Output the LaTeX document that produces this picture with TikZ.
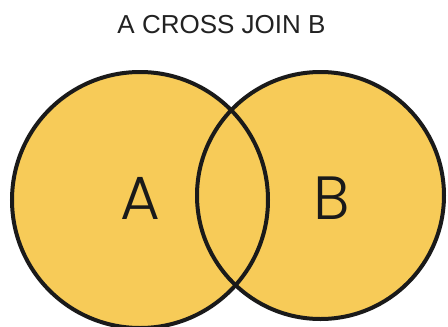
\documentclass[tikz,border=0pt]{standalone}
\usepackage{fontspec}
\setmainfont{Liberation Sans}
\newfontfamily\geofont[UprightFont=* Light]{Poppins}
\definecolor{vennfill}{RGB}{247,203,88}
\definecolor{vennline}{RGB}{26,26,26}
\definecolor{titlegray}{RGB}{34,34,34}
\tikzset{
  setfill/.style={fill=vennfill},
  setline/.style={draw=vennline, line width=4pt},
  setlabel/.style={font=\geofont\fontsize{61}{61}\selectfont, text=vennline, inner sep=0pt, anchor=center},
  titletext/.style={font=\fontsize{26}{26}\selectfont, text=titlegray, inner sep=0pt}
}
\begin{document}
\begin{tikzpicture}[x=1pt,y=-1pt]
\useasboundingbox (0,0) rectangle (448,327);
\fill[white] (0,0) rectangle (448,327);
\coordinate (ca) at (140,200);
\coordinate (cb) at (320.5,195.5);
\fill[setfill] (ca) circle[radius=128];
\fill[setfill] (cb) circle[radius=123.5];
\draw[setline] (ca) circle[radius=128];
\draw[setline] (cb) circle[radius=123.5];
\node[titletext] (title) at (221.5,24.5) {A CROSS JOIN B};
\node[setlabel] (la) at (140,198.5) {\vphantom{B}A};
\node[setlabel] (lb) at (331.5,198.5) {\vphantom{A}B};
\end{tikzpicture}
\end{document}
